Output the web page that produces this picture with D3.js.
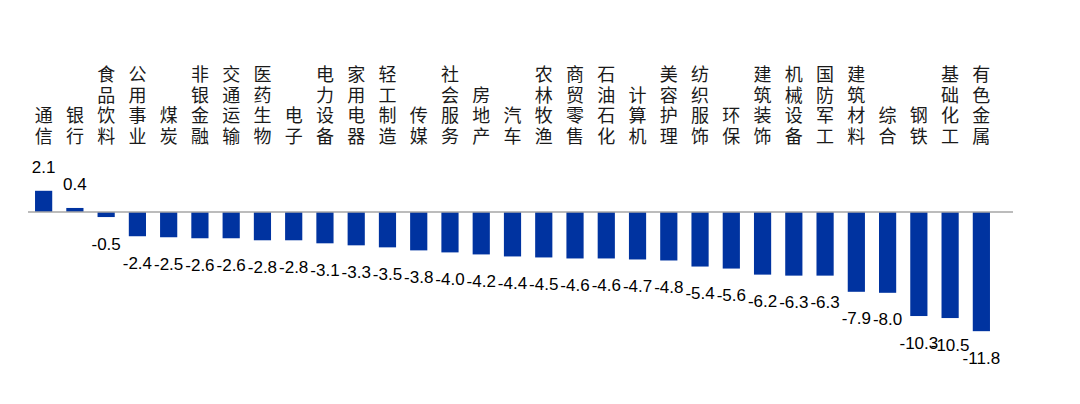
<!DOCTYPE html>
<html>
<head>
<meta charset="utf-8">
<script src="https://cdn.jsdelivr.net/npm/d3@7"></script>
<style>
  body { margin: 0; background: #fff; }
</style>
</head>
<body>
<div id="chart"></div>
<script>
const width = 1080;
const height = 404;

// sectors, sorted by return (%)
const categories = ["通信", "银行", "食品饮料", "公用事业", "煤炭", "非银金融", "交通运输", "医药生物",
  "电子", "电力设备", "家用电器", "轻工制造", "传媒", "社会服务", "房地产", "汽车",
  "农林牧渔", "商贸零售", "石油石化", "计算机", "美容护理", "纺织服饰", "环保", "建筑装饰",
  "机械设备", "国防军工", "建筑材料", "综合", "钢铁", "基础化工", "有色金属"];
const values = [2.1, 0.4, -0.5, -2.4, -2.5, -2.6, -2.6, -2.8,
  -2.8, -3.1, -3.3, -3.5, -3.8, -4.0, -4.2, -4.4,
  -4.5, -4.6, -4.6, -4.7, -4.8, -5.4, -5.6, -6.2,
  -6.3, -6.3, -7.9, -8.0, -10.3, -10.5, -11.8];

const svg = d3.select("#chart")
    .append("svg")
    .attr("width", width)
    .attr("height", height);

const x = d3.scaleBand()
    .domain(categories)
    .range([28, 997])
    .paddingInner(0.45)
    .paddingOuter(0.225);

const y = d3.scaleLinear()
    .domain([-12, 3])
    .range([333.2, 181.7]);

// bars
svg.selectAll("rect.bar")
    .data(values)
    .enter().append("rect")
    .attr("class", "bar")
    .attr("x", (d, i) => x(categories[i]))
    .attr("width", x.bandwidth())
    .attr("y", d => y(Math.max(0, d)))
    .attr("height", d => Math.abs(y(d) - y(0)))
    .attr("fill", "#0033a0");

// zero line
svg.append("line")
    .attr("x1", 28)
    .attr("x2", 1013)
    .attr("y1", y(0))
    .attr("y2", y(0))
    .attr("stroke", "#a6a6a6")
    .attr("stroke-width", 1.5);

// value labels
svg.selectAll("text.val")
    .data(values)
    .enter().append("text")
    .attr("class", "val")
    .attr("x", (d, i) => x(categories[i]) + x.bandwidth() / 2)
    .attr("y", d => d >= 0 ? y(d) - 23 : y(d) + 27)
    .attr("text-anchor", "middle")
    .attr("dominant-baseline", "central")
    .attr("font-family", "Liberation Sans, Arial, sans-serif")
    .attr("font-size", "17px")
    .attr("fill", "#000")
    .text(d => d.toFixed(1));

// vertical category labels, one character per row, bottom aligned
const lineH = 20.5;
const lastRow = 136;
svg.selectAll("text.cat")
    .data(categories)
    .enter().append("text")
    .attr("class", "cat")
    .attr("text-anchor", "middle")
    .attr("font-family", "Noto Sans CJK SC, sans-serif")
    .attr("font-size", "18px")
    .attr("fill", "#1a1a1a")
    .each(function(name) {
        const chars = Array.from(name);
        const cx = x(name) + x.bandwidth() / 2;
        d3.select(this).selectAll("tspan")
            .data(chars)
            .enter().append("tspan")
            .attr("x", cx)
            .attr("y", (c, j) => lastRow + 6.5 - (chars.length - 1 - j) * lineH)
            .text(c => c);
    });
</script>
</body>
</html>
